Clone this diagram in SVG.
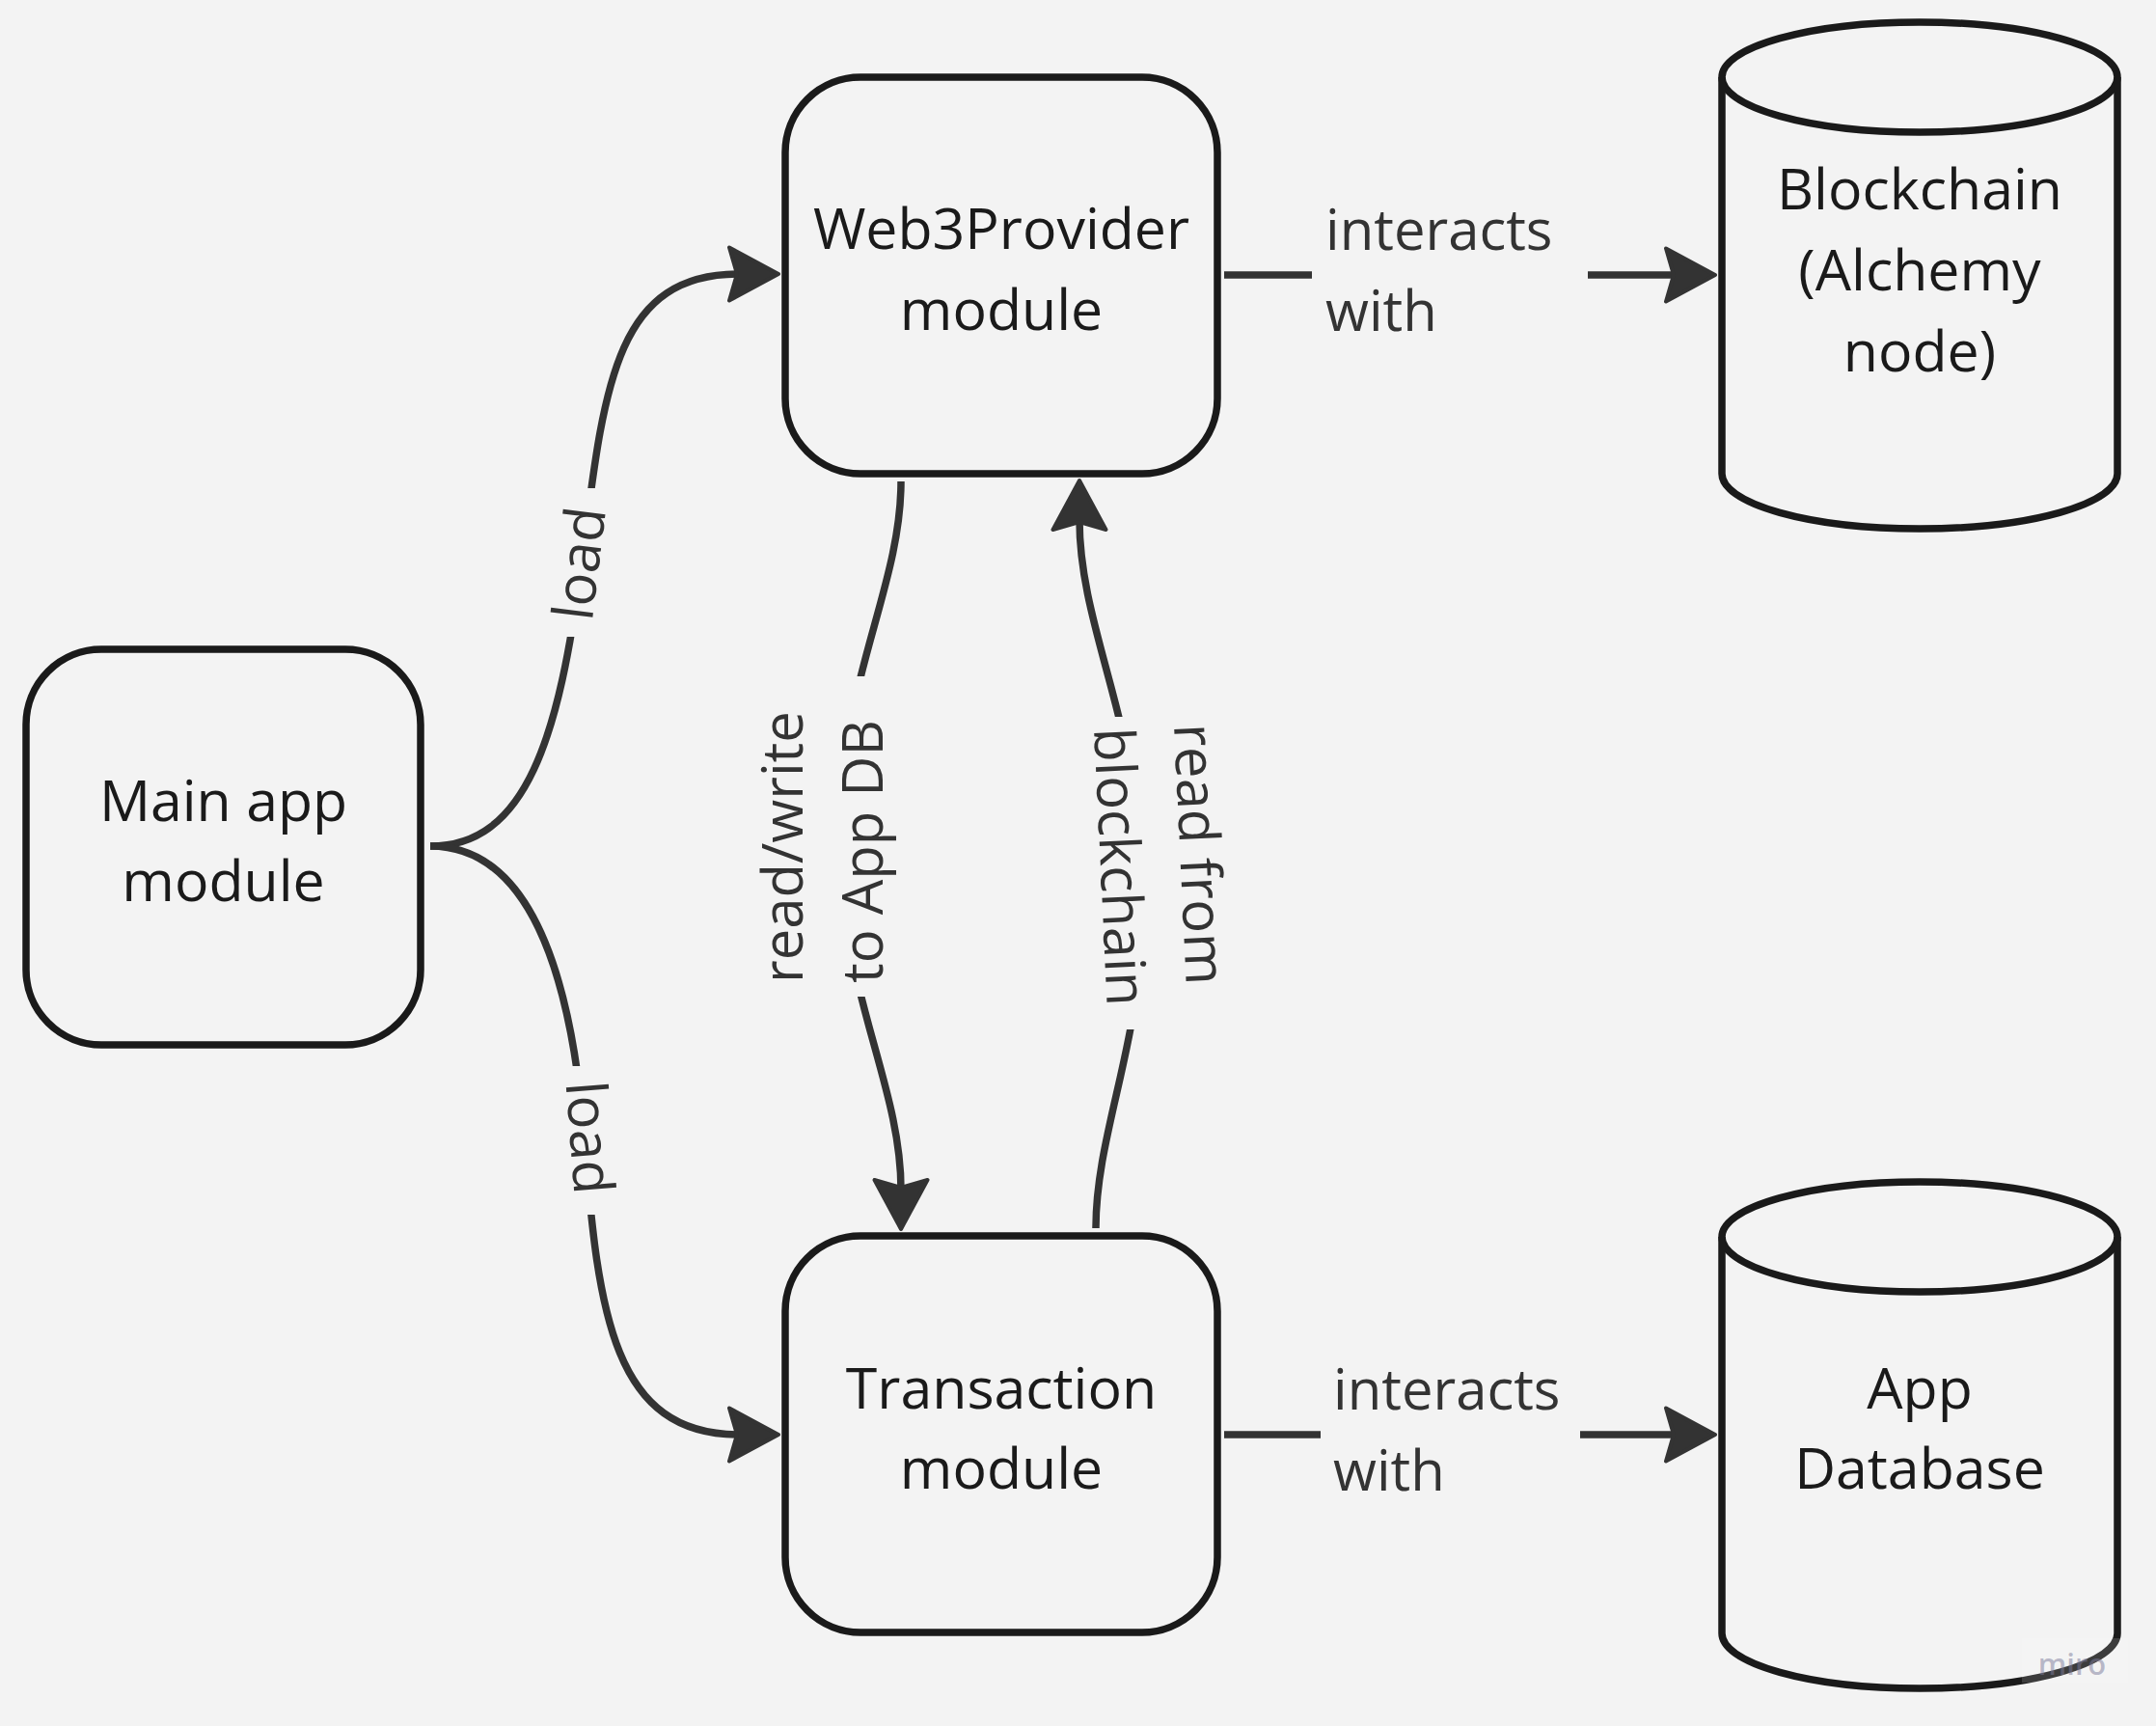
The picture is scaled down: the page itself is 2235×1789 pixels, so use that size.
<svg xmlns="http://www.w3.org/2000/svg" width="2235" height="1789" viewBox="0 0 2235 1789">
<defs>
<style>
.bg{fill:#f3f3f3}
.node{fill:none;stroke:#1a1a1a;stroke-width:7.5}
.nt{font-family:"Open Sans","Noto Sans","DejaVu Sans",sans-serif;font-size:59px;fill:#1a1a1a;text-anchor:middle}
.edge{fill:none;stroke:#333333;stroke-width:7.5}
.lt{font-family:"Open Sans","Noto Sans","DejaVu Sans",sans-serif;font-size:58px;fill:#333333}
</style>
<marker id="arrow" markerUnits="userSpaceOnUse" viewBox="-14 -32 60 64" markerWidth="60" markerHeight="64" refX="0" refY="0" orient="auto">
<path d="M41,0 L-10,-27.5 L-2,0 L-10,27.5 Z" fill="#333333" stroke="#333333" stroke-width="4" stroke-linejoin="round"/>
</marker>
<mask id="gaps" maskUnits="userSpaceOnUse" x="0" y="0" width="2235" height="1789">
<rect width="2235" height="1789" fill="#fff"/>
<rect x="555" y="506" width="110" height="154" fill="#000"/>
<rect x="555" y="1105" width="110" height="154" fill="#000"/>
<rect x="835" y="701" width="130" height="332" fill="#000"/>
<rect x="1095" y="743" width="150" height="324" fill="#000"/>
</mask>
</defs>
<rect class="bg" x="0" y="0" width="2235" height="1789"/>

<g id="connectors">
<g mask="url(#gaps)">
<path id="e-main-web3" class="edge" d="M446,877 C546,877 580,763 603,583 C626,403 636,284 766,284" marker-end="url(#arrow)"/>
<path id="e-main-tx" class="edge" d="M446,877 C546,877 592,1002 606,1182 C620,1362 636,1487 766,1487" marker-end="url(#arrow)"/>
<path id="e-web3-tx" class="edge" d="M934,499 C934,610 870,706 870,866 C870,1026 934,1123 934,1233" marker-end="url(#arrow)"/>
<path id="e-tx-web3" class="edge" d="M1136,1273 C1136,1166 1192,1065 1185,905 C1178,745 1119,648 1119,539" marker-end="url(#arrow)"/>
</g>
<path id="e-web3-chain" class="edge" d="M1269,285 H1360 M1646,285 H1737" marker-end="url(#arrow)"/>
<path id="e-tx-db" class="edge" d="M1269,1487 H1369 M1638,1487 H1737" marker-end="url(#arrow)"/>
<text class="lt" text-anchor="middle" transform="translate(600,584) rotate(-83)" y="21">load</text>
<text class="lt" text-anchor="middle" transform="translate(612,1179) rotate(85.6)" y="21">load</text>
<text class="lt" transform="translate(832,1019) rotate(-90)"><tspan x="0" y="0">read/write</tspan><tspan x="0" y="83">to App DB</tspan></text>
<text class="lt" transform="translate(1217,751) rotate(87.3)"><tspan x="0" y="0">read from</tspan><tspan x="0" y="83">blockchain</tspan></text>
<text class="lt"><tspan x="1374" y="259">interacts</tspan><tspan x="1374" y="343">with</tspan></text>
<text class="lt"><tspan x="1382" y="1461">interacts</tspan><tspan x="1382" y="1545">with</tspan></text>
</g>

<g id="node-main">
<rect class="node" x="27" y="673" width="409" height="410" rx="78" ry="78"/>
<text class="nt"><tspan x="231.5" y="851">Main app</tspan><tspan x="231.5" y="934">module</tspan></text>
</g>

<g id="node-web3">
<rect class="node" x="814" y="80" width="448" height="411" rx="78" ry="78"/>
<text class="nt"><tspan x="1038" y="258">Web3Provider</tspan><tspan x="1038" y="341.5">module</tspan></text>
</g>

<g id="node-tx">
<rect class="node" x="814" y="1281" width="448" height="411" rx="78" ry="78"/>
<text class="nt"><tspan x="1038" y="1460">Transaction</tspan><tspan x="1038" y="1543">module</tspan></text>
</g>

<g id="node-blockchain">
<ellipse class="node" cx="1990" cy="80" rx="205" ry="57"/>
<path class="node" d="M1785,80 L1785,491 A205,57 0 0 0 2195,491 L2195,80"/>
<text class="nt"><tspan x="1990" y="217">Blockchain</tspan><tspan x="1990" y="301">(Alchemy</tspan><tspan x="1990" y="385">node)</tspan></text>
</g>

<g id="node-appdb">
<ellipse class="node" cx="1990" cy="1282" rx="205" ry="57"/>
<path class="node" d="M1785,1282 L1785,1693 A205,57 0 0 0 2195,1693 L2195,1282"/>
<text class="nt"><tspan x="1990" y="1460">App</tspan><tspan x="1990" y="1543">Database</tspan></text>
</g>

<g id="watermark">
<rect x="2096" y="1698" width="110" height="46" fill="#ffffff" fill-opacity="0.15"/>
<text x="2148" y="1736" text-anchor="middle" font-family="Open Sans, Noto Sans, sans-serif" font-size="31" font-weight="600" fill="#7b7b9a" fill-opacity="0.5">miro</text>
</g>
</svg>
